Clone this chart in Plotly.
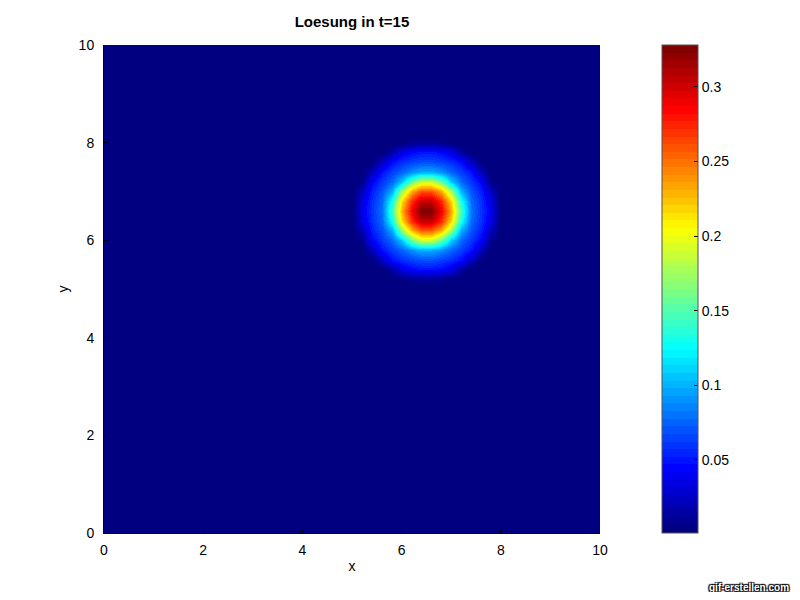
import numpy as np
import plotly.graph_objects as go

# ---- data ----
title_text = "Loesung in t=15"
background_value = 0.001
z_min = 0.001
z_max = 0.328

# full grid nodes (0.2 spacing over the 0..10 square)
x_nodes = [round(0.2 * i, 1) for i in range(51)]
y_nodes = [round(0.2 * i, 1) for i in range(51)]

# block of values around the hump: x nodes 5.0..8.0, y nodes 5.2..8.0
block_x = [5.0, 5.2, 5.4, 5.6, 5.8, 6.0, 6.2, 6.4, 6.6, 6.8, 7.0, 7.2, 7.4, 7.6, 7.8, 8.0]
block_y = [5.2, 5.4, 5.6, 5.8, 6.0, 6.2, 6.4, 6.6, 6.8, 7.0, 7.2, 7.4, 7.6, 7.8, 8.0]
block_z = [
    [0.001, 0.001, 0.001, 0.001, 0.001, 0.003, 0.008, 0.011, 0.011, 0.008, 0.003, 0.001, 0.001, 0.001, 0.001, 0.001],
    [0.001, 0.001, 0.001, 0.001, 0.015, 0.036, 0.045, 0.049, 0.049, 0.045, 0.036, 0.015, 0.001, 0.001, 0.001, 0.001],
    [0.001, 0.001, 0.003, 0.025, 0.047, 0.058, 0.064, 0.068, 0.068, 0.064, 0.058, 0.047, 0.025, 0.003, 0.001, 0.001],
    [0.001, 0.001, 0.022, 0.049, 0.063, 0.075, 0.089, 0.099, 0.099, 0.089, 0.075, 0.063, 0.049, 0.022, 0.001, 0.001],
    [0.001, 0.008, 0.043, 0.061, 0.077, 0.109, 0.160, 0.191, 0.191, 0.160, 0.109, 0.077, 0.061, 0.043, 0.008, 0.001],
    [0.001, 0.022, 0.053, 0.070, 0.099, 0.175, 0.232, 0.258, 0.258, 0.232, 0.175, 0.099, 0.070, 0.053, 0.022, 0.001],
    [0.001, 0.034, 0.058, 0.077, 0.132, 0.218, 0.273, 0.305, 0.305, 0.273, 0.218, 0.132, 0.077, 0.058, 0.034, 0.001],
    [0.001, 0.036, 0.060, 0.080, 0.145, 0.232, 0.290, 0.326, 0.326, 0.290, 0.232, 0.145, 0.080, 0.060, 0.036, 0.001],
    [0.001, 0.034, 0.058, 0.077, 0.132, 0.218, 0.273, 0.305, 0.305, 0.273, 0.218, 0.132, 0.077, 0.058, 0.034, 0.001],
    [0.001, 0.022, 0.053, 0.070, 0.099, 0.175, 0.232, 0.258, 0.258, 0.232, 0.175, 0.099, 0.070, 0.053, 0.022, 0.001],
    [0.001, 0.008, 0.043, 0.061, 0.077, 0.109, 0.160, 0.191, 0.191, 0.160, 0.109, 0.077, 0.061, 0.043, 0.008, 0.001],
    [0.001, 0.001, 0.022, 0.049, 0.063, 0.075, 0.089, 0.099, 0.099, 0.089, 0.075, 0.063, 0.049, 0.022, 0.001, 0.001],
    [0.001, 0.001, 0.003, 0.025, 0.047, 0.058, 0.064, 0.068, 0.068, 0.064, 0.058, 0.047, 0.025, 0.003, 0.001, 0.001],
    [0.001, 0.001, 0.001, 0.001, 0.015, 0.036, 0.045, 0.049, 0.049, 0.045, 0.036, 0.015, 0.001, 0.001, 0.001, 0.001],
    [0.001, 0.001, 0.001, 0.001, 0.001, 0.003, 0.008, 0.011, 0.011, 0.008, 0.003, 0.001, 0.001, 0.001, 0.001, 0.001],
]

x_ticks = [0, 2, 4, 6, 8, 10]
y_ticks = [0, 2, 4, 6, 8, 10]
cbar_ticks = [0.05, 0.1, 0.15, 0.2, 0.25, 0.3]
cbar_labels = ["0.05", "0.1", "0.15", "0.2", "0.25", "0.3"]

# ---- assemble the field ----
Z = np.full((len(y_nodes), len(x_nodes)), background_value)
for j, yv in enumerate(block_y):
    for i, xv in enumerate(block_x):
        Z[y_nodes.index(yv), x_nodes.index(xv)] = block_z[j][i]

# ---- jet colormap with 64 discrete levels ----
def jet(t):
    r = min(max(1.5 - abs(4 * t - 3), 0), 1)
    g = min(max(1.5 - abs(4 * t - 2), 0), 1)
    b = min(max(1.5 - abs(4 * t - 1), 0), 1)
    return f"rgb({int(round(r*255))},{int(round(g*255))},{int(round(b*255))})"

n = 64
colorscale = []
for i in range(n):
    c = jet(i / (n - 1))
    colorscale.append([i / n, c])
    colorscale.append([(i + 1) / n, c])

font_family = "Liberation Sans, Arial, sans-serif"
tick_font = dict(family=font_family, size=14, color="black")

fig = go.Figure(
    go.Heatmap(
        x=x_nodes,
        y=y_nodes,
        z=Z,
        zmin=z_min,
        zmax=z_max,
        zsmooth="best",
        colorscale=colorscale,
        colorbar=dict(
            x=1.125,
            xanchor="left",
            y=0.5,
            yanchor="middle",
            len=1.0,
            lenmode="fraction",
            thickness=36,
            thicknessmode="pixels",
            outlinewidth=1,
            outlinecolor="#555555",
            tickvals=cbar_ticks,
            ticktext=cbar_labels,
            ticks="inside",
            ticklen=4,
            tickcolor="black",
            tickfont=tick_font,
            xpad=0,
            ypad=0,
        ),
    )
)

fig.update_layout(
    width=784,
    height=584,
    paper_bgcolor="white",
    plot_bgcolor="#00008f",
    margin=dict(l=96, r=192, t=37, b=59),
    title=dict(
        text="<b>" + title_text + "</b>",
        x=0.5,
        xref="paper",
        xanchor="center",
        y=1 - 14 / 584,
        yref="container",
        yanchor="middle",
        font=dict(family=font_family, size=15, color="black"),
    ),
    xaxis=dict(
        range=[0, 10],
        tickvals=x_ticks,
        ticks="inside",
        ticklen=4,
        tickcolor="black",
        ticklabelstandoff=4,
        showgrid=False,
        zeroline=False,
        showline=True,
        linecolor="black",
        linewidth=1,
        tickfont=tick_font,
        title=dict(text="x", standoff=4, font=dict(family=font_family, size=14, color="black")),
    ),
    yaxis=dict(
        range=[0, 10],
        tickvals=y_ticks,
        ticks="inside",
        ticklen=4,
        tickcolor="black",
        ticklabelstandoff=6,
        showgrid=False,
        zeroline=False,
        showline=True,
        linecolor="black",
        linewidth=1,
        tickfont=tick_font,
        title=dict(text="y", standoff=6, font=dict(family=font_family, size=14, color="black")),
    ),
    annotations=[
        dict(
            text="<b>gif-erstellen.com</b>",
            xref="paper",
            yref="paper",
            x=(749 - 104) / 496,
            y=(533 - 587) / 488,
            xanchor="center",
            yanchor="middle",
            showarrow=False,
            font=dict(family=font_family, size=10, color="white",
                      shadow="1px 1px 1px black, -1px -1px 1px black, 1px -1px 1px black, -1px 1px 1px black"),
        )
    ],
)

fig.write_html("out.html")
